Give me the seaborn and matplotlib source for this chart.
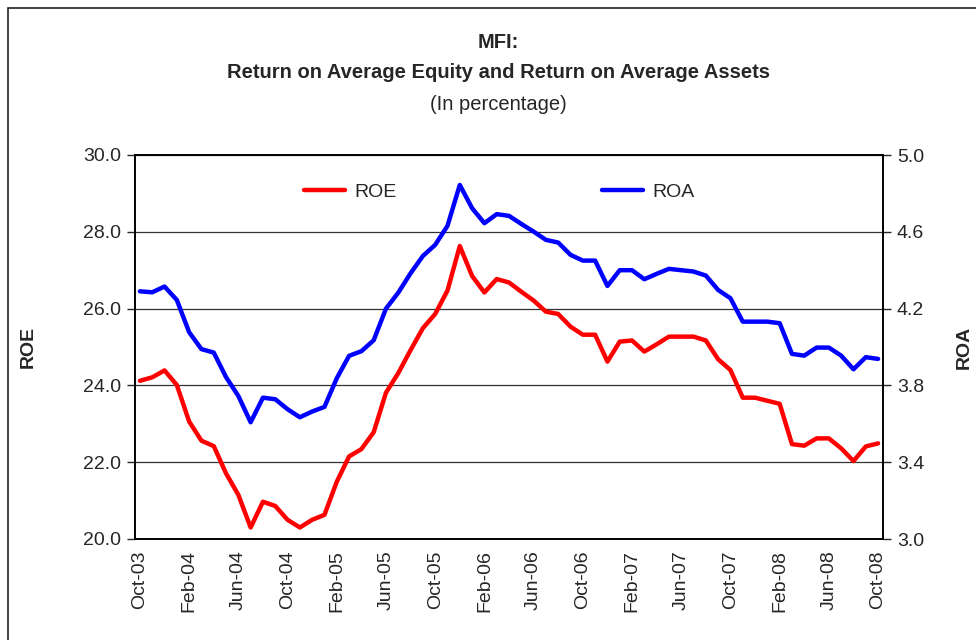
import warnings
warnings.simplefilter(action='ignore')
import seaborn as sns
import pandas as pd
from matplotlib import pyplot as plt
from matplotlib.patches import Rectangle

# monthly data Oct-03 .. Oct-08
tick_labels = ['Oct-03', 'Feb-04', 'Jun-04', 'Oct-04', 'Feb-05', 'Jun-05', 'Oct-05', 'Feb-06',
               'Jun-06', 'Oct-06', 'Feb-07', 'Jun-07', 'Oct-07', 'Feb-08', 'Jun-08', 'Oct-08']

roe = [24.12, 24.21, 24.39, 24.01, 23.06, 22.56, 22.42, 21.71, 21.15, 20.30,
       20.97, 20.86, 20.50, 20.30, 20.50, 20.63, 21.49, 22.15, 22.34, 22.78,
       23.81, 24.32, 24.92, 25.49, 25.86, 26.47, 27.63, 26.85, 26.42, 26.77,
       26.68, 26.44, 26.21, 25.92, 25.86, 25.53, 25.32, 25.32, 24.62, 25.14,
       25.17, 24.88, 25.07, 25.27, 25.27, 25.27, 25.17, 24.68, 24.40, 23.68,
       23.68, 23.60, 23.52, 22.47, 22.43, 22.62, 22.62, 22.36, 22.03, 22.41,
       22.49]

roa = [4.290, 4.285, 4.315, 4.245, 4.077, 3.989, 3.971, 3.843, 3.745, 3.608,
       3.736, 3.728, 3.676, 3.634, 3.664, 3.688, 3.837, 3.954, 3.978, 4.035,
       4.200, 4.283, 4.384, 4.474, 4.532, 4.631, 4.844, 4.723, 4.645, 4.692,
       4.683, 4.641, 4.601, 4.558, 4.544, 4.480, 4.450, 4.450, 4.318, 4.400,
       4.400, 4.353, 4.381, 4.407, 4.400, 4.393, 4.372, 4.297, 4.254, 4.132,
       4.132, 4.132, 4.124, 3.964, 3.955, 3.997, 3.997, 3.955, 3.884, 3.947,
       3.938]

df = pd.DataFrame({'month': range(len(roe)), 'ROE': roe, 'ROA': roa})

sns.set_style('white')
plt.rcParams['font.family'] = ['Liberation Sans', 'DejaVu Sans']

fig = plt.figure(figsize=(9.76, 6.4), dpi=100)
fig.patches.append(Rectangle((8 / 976, -0.1), 1.2, 1 - 8 / 640 + 0.1, transform=fig.transFigure,
                             fill=False, edgecolor='#222222', linewidth=1.2))

ax = fig.add_axes([135 / 976, 101 / 640, 748 / 976, 384 / 640])
ax2 = ax.twinx()

sns.lineplot(data=df, x='month', y='ROE', ax=ax, color='#ff0000', linewidth=3.2, label='ROE', legend=False)
sns.lineplot(data=df, x='month', y='ROA', ax=ax2, color='#0000ff', linewidth=3.2, label='ROA', legend=False)

ax.set_xlim(-0.4, 60.4)
ax.set_ylim(20, 30)
ax2.set_ylim(3, 5)
ax.set_yticks([20, 22, 24, 26, 28, 30])
ax.set_yticklabels(['%.1f' % v for v in [20, 22, 24, 26, 28, 30]], fontsize=14)
ax2.set_yticks([3.0, 3.4, 3.8, 4.2, 4.6, 5.0])
ax2.set_yticklabels(['%.1f' % v for v in [3.0, 3.4, 3.8, 4.2, 4.6, 5.0]], fontsize=14)
ax.set_xticks(range(0, 61, 4))
ax.set_xticklabels(tick_labels, rotation=90, fontsize=14)

ax.grid(axis='y', color='#333333', linewidth=0.9)
ax.grid(axis='x', visible=False)
ax2.grid(False)
for a in (ax, ax2):
    for s in a.spines.values():
        s.set_color('black')
        s.set_linewidth(1.2)
ax.tick_params(axis='y', direction='out', length=6, width=1, pad=4, left=True)
ax2.tick_params(axis='y', direction='out', length=6, width=1, pad=4, right=True)
ax.tick_params(axis='x', length=0, pad=8)

ax.set_xlabel('')
ax.set_ylabel('ROE', fontsize=14, fontweight='bold')
ax2.set_ylabel('ROA', fontsize=14, fontweight='bold')
ax.yaxis.set_label_coords(-0.131, 0.5)
ax2.yaxis.set_label_coords(1.097, 0.5)

h1, l1 = ax.get_legend_handles_labels()
h2, l2 = ax2.get_legend_handles_labels()
ax.legend(h1 + h2, l1 + l2, ncol=2, frameon=False, fontsize=14,
          loc='center', bbox_to_anchor=(0.487, 0.903), handlelength=2.1,
          columnspacing=10.6, handletextpad=0.45)

tx = 0.511
fig.text(tx, 1 - 43 / 640, 'MFI:', ha='center', va='center', fontsize=14.5, fontweight='bold')
fig.text(tx, 1 - 73 / 640, 'Return on Average Equity and Return on Average Assets',
         ha='center', va='center', fontsize=14.5, fontweight='bold')
fig.text(tx, 1 - 105 / 640, '(In percentage)', ha='center', va='center', fontsize=14.5)

plt.savefig('out.png', dpi=100)
